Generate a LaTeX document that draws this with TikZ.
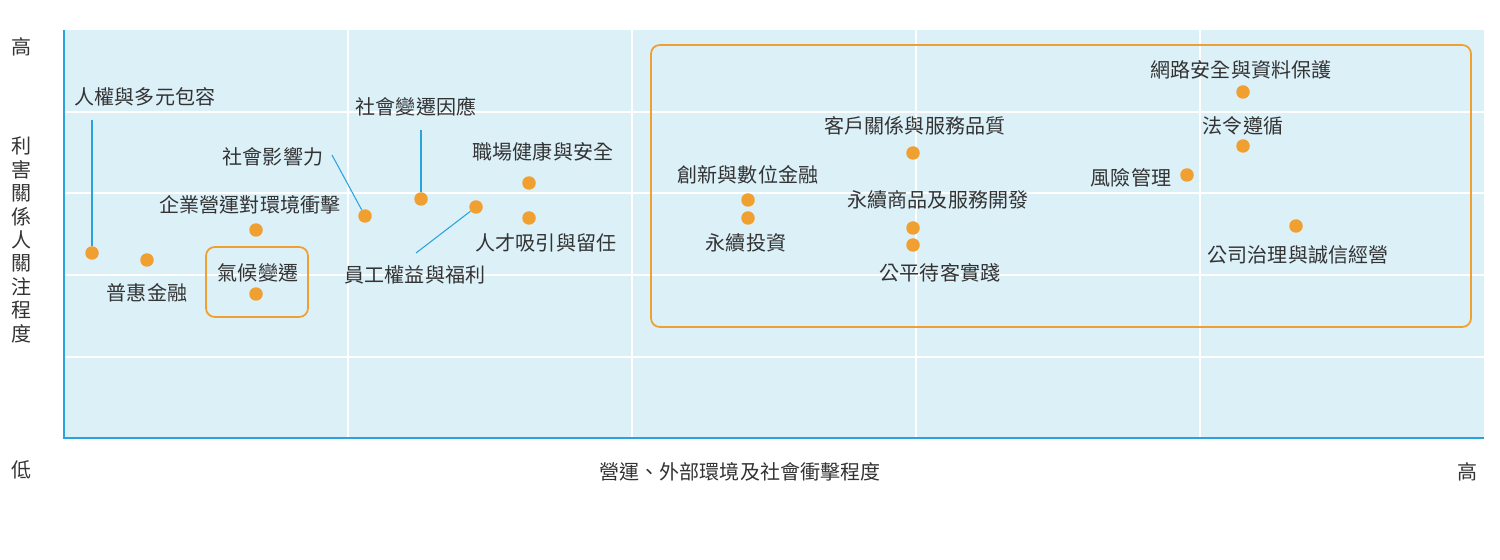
\documentclass[tikz,border=0pt]{standalone}
\usepackage{fontspec}
\setmainfont{Noto Sans CJK TC}
\definecolor{bgblue}{HTML}{DCF0F8}
\definecolor{axisblue}{HTML}{2AA3DC}
\definecolor{dotorange}{HTML}{F0A030}
\definecolor{txtgray}{HTML}{333333}
\begin{document}
\begin{tikzpicture}[x=0.02cm,y=-0.02cm]
\tikzset{every node/.style={inner sep=0pt,text=txtgray,font=\fontsize{11.4}{13}\selectfont},
  issue/.style={circle,fill=dotorange,minimum size=0.27cm},
  leader/.style={axisblue,line width=0.6pt},
  groupbox/.style={draw=dotorange,line width=1pt,rounded corners=5pt}}
\useasboundingbox (0,0) rectangle (1500,560);
% plot area
\fill [bgblue] (64,30) rectangle (1484,438);
\foreach \gx in {348,632,916,1200}
  \draw [white,line width=1.5pt] (\gx,30) -- (\gx,438);
\foreach \gy in {112,193,275,357}
  \draw [white,line width=1.5pt] (64,\gy) -- (1484,\gy);
\draw [axisblue,line width=1.6pt] (64,30) -- (64,438) -- (1484,438);
% axis labels
\node (yhigh) at (22,47) {高};
\node (ylabel) at (22,240) {\fontsize{11.4}{13.2}\selectfont\shortstack{利\\害\\關\\係\\人\\關\\注\\程\\度}};
\node (ylow) at (22,470) {低};
\node (xlabel) at (740,472) {營運、外部環境及社會衝擊程度};
\node (xhigh) at (1467,472) {高};
% boxes
\draw [groupbox] (206,247) rectangle (308,317);
\draw [groupbox] (651,45) rectangle (1471,327);
% issues
\node [issue] (rights) at (92,253) {};
\node (rightsL) at (145,97) {人權與多元包容};
\coordinate (rightsC) at (92,120);
\draw [leader] (rightsC) -- (rights);
\node [issue] (incl) at (147,260) {};
\node (inclL) at (147,293) {普惠金融};
\node [issue] (climate) at (256,294) {};
\node (climateL) at (258,273) {氣候變遷};
\node [issue] (env) at (256,230) {};
\node (envL) at (250,205) {企業營運對環境衝擊};
\node [issue] (social) at (365,216) {};
\node (socialL) at (273,157) {社會影響力};
\coordinate (socialC) at (332,155);
\draw [leader] (socialC) -- (social);
\node [issue] (change) at (421,199) {};
\node (changeL) at (416,107) {社會變遷因應};
\coordinate (changeC) at (421,130);
\draw [leader] (changeC) -- (change);
\node [issue] (health) at (529,183) {};
\node (healthL) at (543,152) {職場健康與安全};
\node [issue] (welfare) at (476,207) {};
\node (welfareL) at (415,275) {員工權益與福利};
\coordinate (welfareC) at (416,253);
\draw [leader] (welfareC) -- (welfare);
\node [issue] (talent) at (529,218) {};
\node (talentL) at (546,243) {人才吸引與留任};
\node [issue] (digital) at (748,200) {};
\node (digitalL) at (748,175) {創新與數位金融};
\node [issue] (invest) at (748,218) {};
\node (investL) at (746,243) {永續投資};
\node [issue] (client) at (913,153) {};
\node (clientL) at (915,126) {客戶關係與服務品質};
\node [issue] (product) at (913,228) {};
\node (productL) at (938,200) {永續商品及服務開發};
\node [issue] (fair) at (913,245) {};
\node (fairL) at (940,273) {公平待客實踐};
\node [issue] (cyber) at (1243,92) {};
\node (cyberL) at (1241,70) {網路安全與資料保護};
\node [issue] (law) at (1243,146) {};
\node (lawL) at (1243,126) {法令遵循};
\node [issue] (risk) at (1187,175) {};
\node (riskL) at (1131,178) {風險管理};
\node [issue] (gov) at (1296,226) {};
\node (govL) at (1298,255) {公司治理與誠信經營};
\end{tikzpicture}
\end{document}
